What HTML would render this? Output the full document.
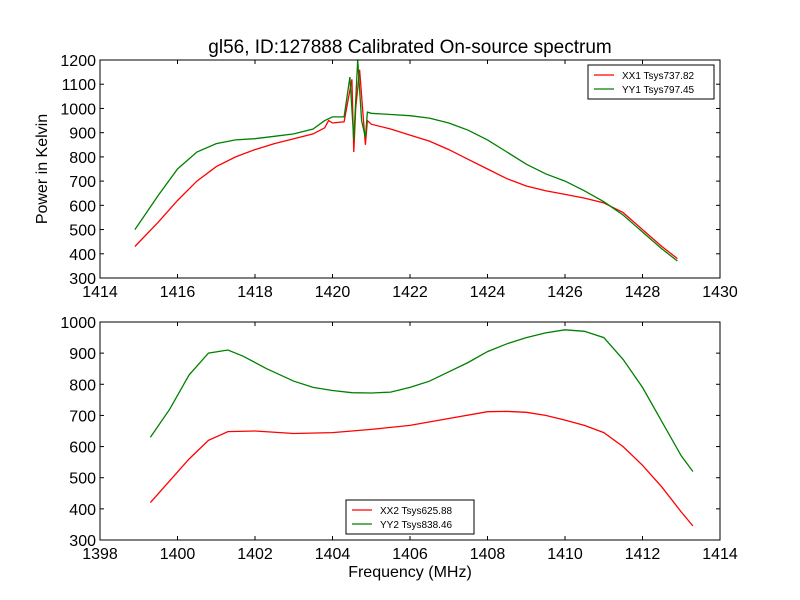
<!DOCTYPE html>
<html><head><meta charset="utf-8"><style>
body{margin:0;background:#fff;}
svg{display:block;font-family:"Liberation Sans","DejaVu Sans",sans-serif;}
</style></head><body>
<svg id="c" width="800" height="600"></svg>
<script>
const topFreqX = [1414.9,1415.5,1416,1416.5,1417,1417.5,1418,1418.5,1419,1419.5,1419.8,1419.9,1420,1420.3,1420.5,1420.55,1420.6,1420.7,1420.8,1420.85,1420.9,1421,1421.5,1422,1422.5,1423,1423.5,1424,1424.5,1425,1425.5,1426,1426.5,1427,1427.5,1428,1428.5,1428.9];
const xx1Values = [430,530,620,700,760,800,830,855,875,895,920,950,940,945,1120,820,1000,1160,950,850,950,935,915,890,865,830,790,750,710,680,660,645,630,610,570,500,430,380];
const topFreqY = [1414.9,1415.5,1416,1416.5,1417,1417.5,1418,1418.5,1419,1419.5,1419.8,1420,1420.3,1420.45,1420.55,1420.65,1420.75,1420.85,1420.9,1421,1421.5,1422,1422.5,1423,1423.5,1424,1424.5,1425,1425.5,1426,1426.5,1427,1427.5,1428,1428.5,1428.9];
const yy1Values = [500,640,750,820,855,870,875,885,895,915,950,965,965,1130,870,1200,950,880,985,980,975,970,960,940,910,870,820,770,730,700,660,615,560,490,420,370];
const botFreqX = [1399.3,1399.8,1400.3,1400.8,1401.3,1402,1403,1404,1405,1406,1407,1408,1408.5,1409,1409.5,1410,1410.5,1411,1411.5,1412,1412.5,1413,1413.3];
const xx2Values = [420,490,560,620,648,650,642,645,655,668,690,712,713,710,700,685,668,645,600,540,470,390,345];
const botFreqY = [1399.3,1399.8,1400.3,1400.8,1401.3,1401.7,1402.3,1403,1403.5,1404,1404.5,1405,1405.5,1406,1406.5,1407,1407.5,1408,1408.5,1409,1409.5,1410,1410.5,1411,1411.5,1412,1412.5,1413,1413.3];
const yy2Values = [630,720,830,900,910,890,850,810,790,780,773,772,775,790,810,840,870,905,930,950,965,975,970,950,880,790,680,570,520];
const topXTicks = [1414,1416,1418,1420,1422,1424,1426,1428,1430];
const topYTicks = [300,400,500,600,700,800,900,1000,1100,1200];
const botXTicks = [1398,1400,1402,1404,1406,1408,1410,1412,1414];
const botYTicks = [300,400,500,600,700,800,900,1000];

const svg = document.getElementById('c');
const NS = 'http://www.w3.org/2000/svg';
function mk(tag, attrs, parent){const e=document.createElementNS(NS,tag);for(const k in attrs)e.setAttribute(k,attrs[k]);(parent||svg).appendChild(e);return e;}
function txt(s, attrs){const e=mk('text',attrs);e.textContent=s;return e;}

function panel(name, L, T, W, H, x0, x1, y0, y1, xt, yt, series, legend){
  const sx = v => L + (v-x0)/(x1-x0)*W;
  const sy = v => T + H - (v-y0)/(y1-y0)*H;
  const g = mk('g',{});
  
  
  series.forEach(s=>{
    const d = s.x.map((v,i)=>(i?'L':'M')+sx(v).toFixed(1)+','+sy(s.y[i]).toFixed(1)).join(' ');
    const p = mk('path',{d:d,fill:'none',stroke:s.color,'stroke-width':1.3},g);
    
    
  });
  mk('rect',{x:L,y:T,width:W,height:H,fill:'none',stroke:'#000','stroke-width':1},g);
  xt.forEach(v=>{
    const x=sx(v);
    mk('line',{x1:x,x2:x,y1:T+H,y2:T+H-4,stroke:'#000'},g);
    mk('line',{x1:x,x2:x,y1:T,y2:T+4,stroke:'#000'},g);
    const t = txt(String(v),{x:x,y:T+H+19,'font-size':16,'text-anchor':'middle'});
    
    
  });
  yt.forEach(v=>{
    const y=sy(v);
    mk('line',{x1:L,x2:L+4,y1:y,y2:y,stroke:'#000'},g);
    mk('line',{x1:L+W,x2:L+W-4,y1:y,y2:y,stroke:'#000'},g);
    const t = txt(String(v),{x:L-4,y:y+6,'font-size':16,'text-anchor':'end'});
    
    
  });
  const lg = mk('g',{});
  
  
  mk('rect',{x:legend.x,y:legend.y,width:legend.w,height:34,fill:'#fff',stroke:'#000'},lg);
  series.forEach((s,i)=>{
    const yy = legend.y+10+i*14;
    mk('line',{x1:legend.x+6,x2:legend.x+26,y1:yy,y2:yy,stroke:s.color,'stroke-width':1.3},lg);
    const t=mk('text',{x:legend.x+34,y:yy+4,'font-size':10},lg);
    t.textContent=s.label;
    
    
  });
}

panel('top',100,60,620,218,1414,1430,300,1200,topXTicks,topYTicks,
  [{name:'xx1',x:topFreqX,y:xx1Values,color:'#ff0000',label:'XX1 Tsys737.82'},
   {name:'yy1',x:topFreqY,y:yy1Values,color:'#008000',label:'YY1 Tsys797.45'}],
  {x:588,y:65,w:126});
panel('bottom',100,322,620,218,1398,1414,300,1000,botXTicks,botYTicks,
  [{name:'xx2',x:botFreqX,y:xx2Values,color:'#ff0000',label:'XX2 Tsys625.88'},
   {name:'yy2',x:botFreqY,y:yy2Values,color:'#008000',label:'YY2 Tsys838.46'}],
  {x:346,y:500,w:128});

let t = txt('gl56, ID:127888 Calibrated On-source spectrum',{x:410,y:53,'font-size':19,'text-anchor':'middle'});


t = txt('Power in Kelvin',{x:47,y:169,'font-size':16,'text-anchor':'middle',transform:'rotate(-90 47 169)'});


t = txt('Frequency (MHz)',{x:410,y:577,'font-size':16,'text-anchor':'middle'});


</script>
</body></html>
